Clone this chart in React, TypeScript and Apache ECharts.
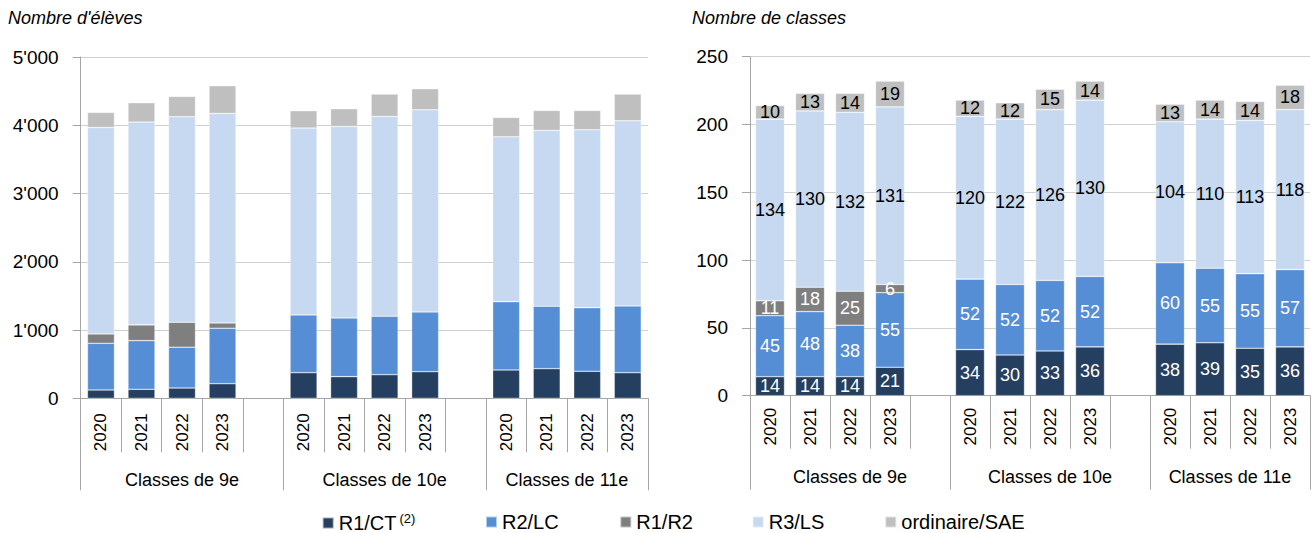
import React, { useEffect, useRef } from "react";
import * as echarts from "echarts";

const years = ["2020", "2021", "2022", "2023"];
const groups = ["Classes de 9e", "Classes de 10e", "Classes de 11e"];
const seriesNames = ["R1/CT", "R2/LC", "R1/R2", "R3/LS", "ordinaire/SAE"];
const seriesColors = ["#253F60", "#558ED5", "#7F7F7F", "#C6D9F1", "#BFBFBF"];
const labelColors = ["#FFFFFF", "#FFFFFF", "#FFFFFF", "#000000", "#000000"];

// Nombre d'élèves (9e 2020..2023, 10e 2020..2023, 11e 2020..2023)
const elevesR1CT = [122, 132, 151, 214, 375, 317, 346, 390, 415, 434, 396, 375];
const elevesR2LC = [684, 713, 597, 812, 846, 860, 856, 875, 1001, 915, 932, 978];
const elevesR1R2 = [137, 230, 366, 78, null, null, null, null, null, null, null, null];
const elevesR3LS = [3025, 2972, 3011, 3069, 2738, 2805, 2927, 2962, 2415, 2575, 2606, 2713];
const elevesOrd = [220, 283, 297, 406, 254, 260, 328, 308, 283, 293, 283, 391];

// Nombre de classes
const classesR1CT = [14, 14, 14, 21, 34, 30, 33, 36, 38, 39, 35, 36];
const classesR2LC = [45, 48, 38, 55, 52, 52, 52, 52, 60, 55, 55, 57];
const classesR1R2 = [11, 18, 25, 6, null, null, null, null, null, null, null, null];
const classesR3LS = [134, 130, 132, 131, 120, 122, 126, 130, 104, 110, 113, 118];
const classesOrd = [10, 13, 14, 19, 12, 12, 15, 14, 13, 14, 14, 18];

const leftTicks = [0, 1000, 2000, 3000, 4000, 5000];
const rightTicks = [0, 50, 100, 150, 200, 250];

const FONT = "'Liberation Sans', Arial, sans-serif";
const AXIS_GREY = "#A6A6A6";
const GRID_GREY = "#D0D0D0";

// 14 slots: 4 years + blank, 4 years + blank, 4 years
const slotKeys: string[] = [];
groups.forEach((g, gi) => {
  years.forEach((y) => slotKeys.push(`${gi}|${y}`));
  if (gi < groups.length - 1) slotKeys.push(`${gi}|gap`);
});
const nSlots = slotKeys.length;

function toSlots(arr: (number | null)[]): (number | null)[] {
  const out: (number | null)[] = new Array(nSlots).fill(null);
  arr.forEach((v, i) => {
    const g = Math.floor(i / years.length);
    const y = i % years.length;
    out[g * (years.length + 1) + y] = v;
  });
  return out;
}

// group boundaries / centers in slot units
const groupBounds = [0, 5, 10, 14];
const groupCenters = [2.5, 7.5, 12];

const fmtThousands = (v: number) => {
  if (v === 0) return "0";
  const k = Math.floor(v / 1000);
  const r = v % 1000;
  return k > 0 ? `${k}'${String(r).padStart(3, "0")}` : String(r);
};

function makeXAxes(gridIndex: number, labelMargin: number, tickLen: number, longLen: number, groupMargin: number) {
  return [
    {
      type: "category",
      gridIndex,
      data: slotKeys,
      position: "bottom",
      axisLine: { show: true, lineStyle: { color: AXIS_GREY, width: 1 } },
      axisTick: { show: true, interval: 0, length: tickLen, lineStyle: { color: AXIS_GREY } },
      axisLabel: {
        interval: 0,
        rotate: 90,
        margin: labelMargin,
        fontSize: 17,
        fontFamily: FONT,
        color: "#000",
        formatter: (v: string) => {
          const p = v.split("|")[1];
          return p === "gap" ? "" : p;
        },
      },
      splitLine: { show: false },
    },
    {
      type: "value",
      gridIndex,
      min: 0,
      max: nSlots,
      position: "bottom",
      axisLine: { show: false },
      splitLine: { show: false },
      axisTick: {
        show: true,
        customValues: groupBounds,
        length: longLen,
        lineStyle: { color: AXIS_GREY },
      },
      axisLabel: {
        show: true,
        customValues: groupCenters,
        margin: groupMargin,
        fontSize: 18,
        fontFamily: FONT,
        color: "#000",
        formatter: (v: number) => {
          const idx = groupCenters.indexOf(v);
          return idx >= 0 ? groups[idx] : "";
        },
      },
    },
  ];
}

function makeYAxis(gridIndex: number, ticks: number[], fmt: (v: number) => string) {
  return {
    type: "value",
    gridIndex,
    min: ticks[0],
    max: ticks[ticks.length - 1],
    interval: ticks[1] - ticks[0],
    axisLine: { show: true, lineStyle: { color: AXIS_GREY } },
    axisTick: { show: true, length: 8, lineStyle: { color: AXIS_GREY } },
    axisLabel: { margin: 22, fontSize: 19, fontFamily: FONT, color: "#000", formatter: fmt },
    splitLine: { show: true, lineStyle: { color: GRID_GREY, width: 1 } },
  };
}

const legendLefts = [321.7, 485, 619.3, 751.7, 884.3];

export default function App() {
  const ref = useRef<HTMLDivElement>(null);

  useEffect(() => {
    if (!ref.current) return;
    const chart = echarts.init(ref.current, null, { renderer: "svg" });

    const leftData = [elevesR1CT, elevesR2LC, elevesR1R2, elevesR3LS, elevesOrd];
    const rightData = [classesR1CT, classesR2LC, classesR1R2, classesR3LS, classesOrd];

    const series: any[] = [];
    seriesNames.forEach((name, i) => {
      series.push({
        name,
        type: "bar",
        stack: "eleves",
        xAxisIndex: 0,
        yAxisIndex: 0,
        barWidth: 27,
        data: toSlots(leftData[i]),
        itemStyle: { color: seriesColors[i], borderColor: "rgba(255,255,255,0.55)", borderWidth: 0.6 },
        label: { show: false },
      });
    });
    seriesNames.forEach((name, i) => {
      series.push({
        name,
        type: "bar",
        stack: "classes",
        xAxisIndex: 2,
        yAxisIndex: 1,
        barWidth: 29,
        data: toSlots(rightData[i]),
        itemStyle: { color: seriesColors[i], borderColor: "rgba(255,255,255,0.55)", borderWidth: 0.6 },
        label: {
          show: true,
          position: "inside",
          color: labelColors[i],
          fontSize: 18,
          fontFamily: FONT,
          formatter: "{c}",
        },
      });
    });

    const legends = seriesNames.map((name, i) => ({
      data: [name],
      left: legendLefts[i],
      top: 512,
      padding: 0,
      icon: "rect",
      itemWidth: 11,
      itemHeight: 11,
      itemGap: 0,
      selectedMode: false,
      textStyle: {
        fontSize: 20,
        fontFamily: FONT,
        color: "#000",
        rich: {
          sup: { fontSize: 13, fontFamily: FONT, color: "#000", padding: [0, 0, 9, 3] },
        },
      },
      formatter: (n: string) => (n === "R1/CT" ? "R1/CT{sup|(2)}" : n),
    }));

    chart.setOption({
      animation: false,
      backgroundColor: "#FFFFFF",
      title: [
        {
          text: "Nombre d'élèves",
          left: 8,
          top: 9,
          padding: 0,
          textStyle: { fontSize: 18, fontStyle: "italic", fontWeight: "normal", fontFamily: FONT, color: "#000" },
        },
        {
          text: "Nombre de classes",
          left: 692,
          top: 9,
          padding: 0,
          textStyle: { fontSize: 18, fontStyle: "italic", fontWeight: "normal", fontFamily: FONT, color: "#000" },
        },
      ],
      legend: legends,
      grid: [
        { left: 80.7, top: 57, width: 567.3, height: 341.3, containLabel: false },
        { left: 750, top: 56.7, width: 560, height: 339, containLabel: false },
      ],
      xAxis: [...makeXAxes(0, 15, 54, 92, 73), ...makeXAxes(1, 12, 53, 94, 72)],
      yAxis: [makeYAxis(0, leftTicks, fmtThousands), makeYAxis(1, rightTicks, (v: number) => String(v))],
      series,
    });

    return () => chart.dispose();
  }, []);

  return (
    <div
      ref={ref}
      style={{ position: "fixed", left: 0, top: 0, width: 1314, height: 533, background: "#fff" }}
    />
  );
}
